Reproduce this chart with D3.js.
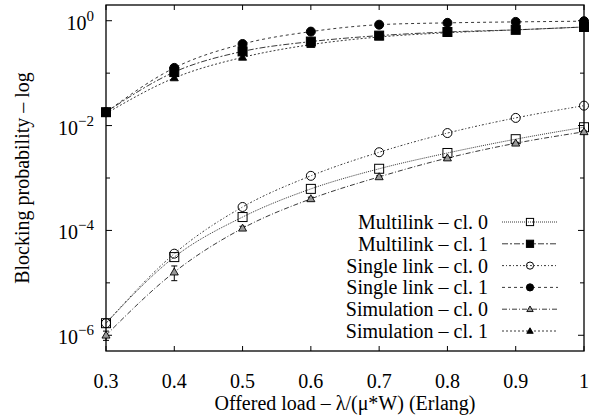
<!DOCTYPE html>
<html>
<head>
<meta charset="utf-8">
<script src="https://cdn.jsdelivr.net/npm/d3@7"></script>
<style>
  body { margin: 0; background: #fff; }
  text { font-family: "Liberation Serif", "Times New Roman", serif; fill: #000; }
</style>
</head>
<body>
<script>
var loads = [0.3, 0.4, 0.5, 0.6, 0.7, 0.8, 0.9, 1.0];
var multi0 = [1.7e-6, 3.1e-5, 1.8e-4, 6.2e-4, 1.5e-3, 3.0e-3, 5.5e-3, 9.3e-3];
var multi1 = [0.018, 0.105, 0.26, 0.40, 0.52, 0.61, 0.67, 0.76];
var single0 = [1.7e-6, 3.6e-5, 2.8e-4, 1.1e-3, 3.1e-3, 7.2e-3, 0.014, 0.024];
var single1 = [0.018, 0.126, 0.36, 0.62, 0.84, 0.91, 0.95, 0.98];
var sim0 = [1.0e-6, 1.6e-5, 1.1e-4, 4.0e-4, 1.05e-3, 2.4e-3, 4.6e-3, 7.6e-3];
var sim0err = [0.2e-6, 0.5e-5, 0.1e-4, 0.3e-4, 0.05e-3, 0.1e-3, 0.2e-3, 0.3e-3];
var sim1 = [0.017, 0.081, 0.20, 0.35, 0.49, 0.59, 0.67, 0.76];
var xTicks = [0.3, 0.4, 0.5, 0.6, 0.7, 0.8, 0.9, 1];
var yMajor = [0, -2, -4, -6];
var yMinor = [-1, -3, -5];

var series = [
  {name: "Multilink \u2013 cl. 0", v: multi0, dash: "1,1", mark: "square", fill: "none"},
  {name: "Multilink \u2013 cl. 1", v: multi1, dash: "6,2,2,2", mark: "square", fill: "#000"},
  {name: "Single link \u2013 cl. 0", v: single0, dash: "2,2,1,2", mark: "circle", fill: "none"},
  {name: "Single link \u2013 cl. 1", v: single1, dash: "3,3", mark: "circle", fill: "#000"},
  {name: "Simulation \u2013 cl. 0", v: sim0, err: sim0err, dash: "5,2,1,2", mark: "triangle", fill: "none"},
  {name: "Simulation \u2013 cl. 1", v: sim1, dash: "2,2", mark: "triangle", fill: "#000"}
];

var W = 601, H = 416;
var m = {l: 106, r: 17, t: 5, b: 65};
var svg = d3.select("body").append("svg").attr("width", W).attr("height", H);

var x = d3.scaleLinear().domain([0.3, 1]).range([m.l, W - m.r]);
var y = d3.scaleLog().domain([Math.pow(10, -6.3), Math.pow(10, 0.3)]).range([H - m.b, m.t]);

var g = svg.append("g");
var tl = 5;

// ticks (inward, mirrored)
xTicks.forEach(function(t){
  g.append("line").attr("x1", x(t)).attr("x2", x(t)).attr("y1", H - m.b).attr("y2", H - m.b - tl).attr("stroke", "#000");
  g.append("line").attr("x1", x(t)).attr("x2", x(t)).attr("y1", m.t).attr("y2", m.t + tl).attr("stroke", "#000");
  g.append("text").attr("x", x(t)).attr("y", 388).attr("text-anchor", "middle")
    .style("font-size", "20px").text(t === 1 ? "1" : d3.format(".1f")(t));
});
yMajor.concat(yMinor).forEach(function(e){
  var yy = y(Math.pow(10, e)), len = yMajor.indexOf(e) >= 0 ? tl + 1 : tl - 1;
  g.append("line").attr("x1", m.l).attr("x2", m.l + len).attr("y1", yy).attr("y2", yy).attr("stroke", "#000");
  g.append("line").attr("x1", W - m.r).attr("x2", W - m.r - len).attr("y1", yy).attr("y2", yy).attr("stroke", "#000");
});
yMajor.forEach(function(e){
  var yy = y(Math.pow(10, e));
  var t = g.append("text").attr("x", 94).attr("y", yy + 9).attr("text-anchor", "end").style("font-size", "20px");
  t.append("tspan").text("10");
  t.append("tspan").attr("dy", -9).style("font-size", "15px").text(e === 0 ? "0" : "\u2212" + (-e));
});

g.append("rect").attr("x", m.l).attr("y", m.t).attr("width", W - m.r - m.l).attr("height", H - m.b - m.t)
  .attr("fill", "none").attr("stroke", "#000").attr("stroke-width", 1.3);

svg.append("text").attr("transform", "translate(29," + ((m.t + H - m.b) / 2) + ") rotate(-90)")
  .attr("text-anchor", "middle").style("font-size", "20px").text("Blocking probability \u2013 log");
svg.append("text").attr("x", (m.l + W - m.r) / 2).attr("y", 410).attr("text-anchor", "middle")
  .style("font-size", "20px").text("Offered load \u2013 \u03bb/(\u03bc*W) (Erlang)");

function marker(sel, s, cx, cy, k) {
  k = k || 1;
  if (s.mark === "square") {
    var h = 4.5 * k;
    sel.append("rect").attr("x", cx - h).attr("y", cy - h).attr("width", 2 * h).attr("height", 2 * h)
      .attr("fill", s.fill === "none" ? "#fff" : s.fill).attr("fill-opacity", s.fill === "none" ? 0 : 1).attr("stroke", "#000");
  } else if (s.mark === "circle") {
    sel.append("circle").attr("cx", cx).attr("cy", cy).attr("r", 4.5 * k)
      .attr("fill", s.fill).attr("stroke", "#000");
  } else {
    sel.append("path").attr("d", d3.symbol().type(d3.symbolTriangle).size(28 * k * k)).attr("transform", "translate(" + cx + "," + (cy + 0.5) + ")")
      .attr("fill", s.fill === "none" ? "#999" : s.fill).attr("stroke", "#000").attr("stroke-width", 0.9);
  }
}

var line = d3.line().x(function(d){ return x(d[0]); }).y(function(d){ return y(d[1]); }).curve(d3.curveMonotoneX);
var plot = svg.append("g");
series.forEach(function(s){
  var pts = loads.map(function(l, i){ return [l, s.v[i]]; });
  plot.append("path").attr("d", line(pts)).attr("fill", "none").attr("stroke", "#222")
    .attr("stroke-width", 0.9).attr("stroke-dasharray", s.dash);
});
series.forEach(function(s){
  loads.forEach(function(l, i){
    if (s.err) {
      var lo = y(s.v[i] - s.err[i]), hi = y(s.v[i] + s.err[i]);
      plot.append("line").attr("x1", x(l)).attr("x2", x(l)).attr("y1", lo).attr("y2", hi).attr("stroke", "#000");
      plot.append("line").attr("x1", x(l) - 3).attr("x2", x(l) + 3).attr("y1", lo).attr("y2", lo).attr("stroke", "#000");
      plot.append("line").attr("x1", x(l) - 3).attr("x2", x(l) + 3).attr("y1", hi).attr("y2", hi).attr("stroke", "#000");
    }
    marker(plot, s, x(l), y(s.v[i]));
  });
});

// legend
var lg = svg.append("g");
series.forEach(function(s, i){
  var yy = 222 + i * 21.8;
  lg.append("text").attr("x", 488).attr("y", yy + 7).attr("text-anchor", "end").style("font-size", "20px").text(s.name);
  lg.append("line").attr("x1", 502).attr("x2", 558).attr("y1", yy).attr("y2", yy).attr("stroke", "#222")
    .attr("stroke-width", 0.9).attr("stroke-dasharray", s.dash);
  marker(lg, s, 530, yy, 0.8);
});
</script>
</body>
</html>
